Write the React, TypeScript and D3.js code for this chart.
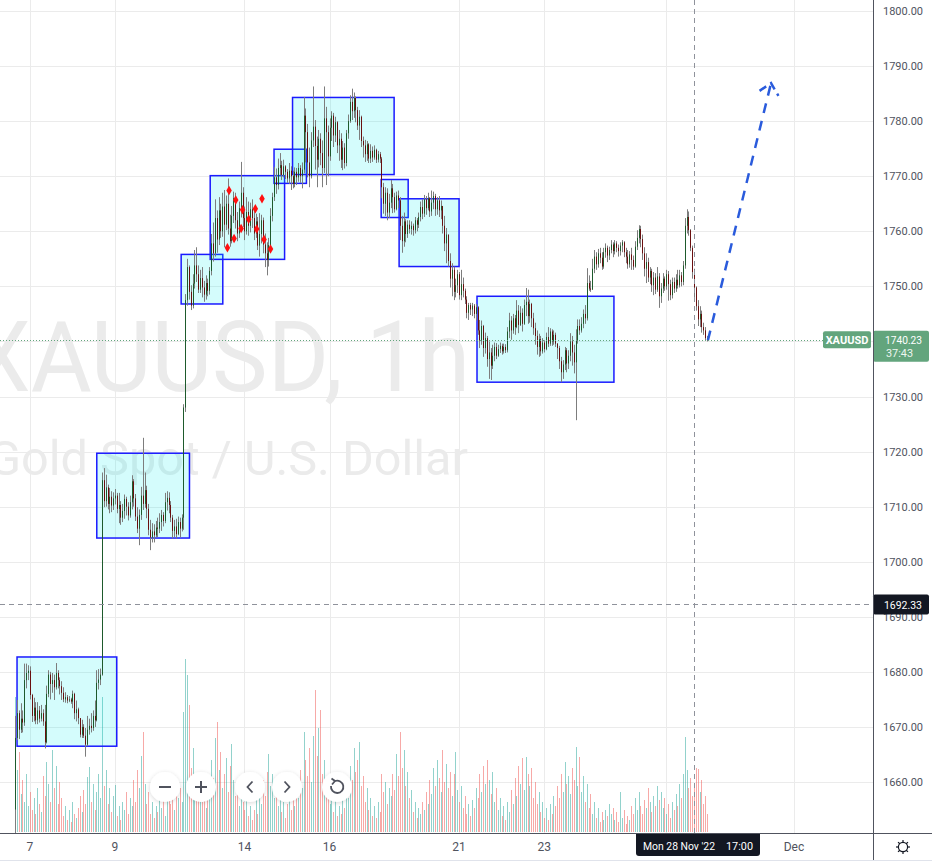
import React from "react";
import * as d3 from "d3";

// ---------- data ----------
const firstOpen = 1655.0;

const closes = [
  1668.0, 1672.5, 1669.5, 1671.5, 1670.8, 1678.5, 1679.8, 1680.2, 1675.8, 1672.0,
  1673.5, 1671.2, 1673.0, 1671.5, 1672.5, 1671.0, 1667.2, 1676.0, 1679.5, 1677.8,
  1678.5, 1677.2, 1679.8, 1678.5, 1677.4, 1676.2, 1675.0, 1675.4, 1674.8, 1675.0,
  1674.6, 1676.0, 1672.5, 1673.2, 1671.6, 1668.6, 1670.0, 1668.4, 1666.8, 1669.5,
  1670.2, 1669.8, 1672.0, 1671.2, 1678.0, 1678.6, 1679.5, 1714.8, 1711.0, 1713.5,
  1710.5, 1711.8, 1710.2, 1711.5, 1712.0, 1709.6, 1710.3, 1708.0, 1709.2, 1711.4,
  1710.0, 1708.4, 1710.8, 1714.6, 1711.5, 1708.2, 1706.0, 1708.5, 1712.0, 1710.5,
  1713.0, 1709.6, 1705.8, 1704.4, 1705.5, 1704.8, 1706.2, 1706.0, 1707.2, 1708.5,
  1707.4, 1710.8, 1711.6, 1710.3, 1708.0, 1705.6, 1706.4, 1705.0, 1707.2, 1706.0,
  1708.0, 1728.0, 1747.5, 1753.5, 1749.0, 1746.5, 1750.5, 1753.8, 1752.2, 1749.4,
  1751.5, 1749.8, 1748.5, 1750.6, 1749.2, 1752.8, 1757.8, 1756.0, 1762.4, 1758.5,
  1763.8, 1760.0, 1764.5, 1761.2, 1765.0, 1760.5, 1758.2, 1762.8, 1766.0, 1762.0,
  1759.6, 1764.2, 1767.0, 1762.4, 1760.0, 1763.5, 1761.0, 1764.0, 1762.4, 1759.6,
  1761.8, 1757.4, 1759.5, 1762.0, 1757.6, 1756.0, 1754.8, 1757.5, 1762.8, 1766.2,
  1769.8, 1768.4, 1771.5, 1772.0, 1770.2, 1771.8, 1770.8, 1769.6, 1771.0, 1770.0,
  1768.6, 1770.8, 1769.8, 1771.5, 1770.0, 1771.2, 1781.0, 1778.0, 1772.5, 1770.0,
  1776.5, 1779.0, 1775.5, 1773.0, 1776.8, 1774.2, 1771.5, 1780.5, 1778.0, 1773.6,
  1778.8, 1781.0, 1777.4, 1779.8, 1775.6, 1776.8, 1773.0, 1775.2, 1772.4, 1777.8,
  1780.0, 1783.5, 1781.8, 1784.2, 1782.0, 1779.2, 1780.8, 1776.4, 1775.6, 1774.0,
  1775.8, 1773.2, 1774.6, 1773.4, 1774.8, 1773.0, 1774.0, 1773.2, 1768.0, 1765.0,
  1767.0, 1763.4, 1765.2, 1767.8, 1766.2, 1764.0, 1766.5, 1765.6, 1761.0, 1758.2,
  1761.8, 1759.5, 1761.2, 1760.4, 1761.0, 1760.2, 1762.0, 1761.2, 1762.6, 1764.4,
  1763.2, 1765.8, 1764.2, 1766.0, 1763.6, 1765.2, 1766.4, 1764.0, 1765.6, 1763.8,
  1764.6, 1761.0, 1757.8, 1759.4, 1754.6, 1751.4, 1753.0, 1749.0, 1750.2, 1752.2,
  1748.4, 1750.4, 1749.2, 1747.6, 1745.2, 1746.6, 1745.8, 1746.5, 1745.0, 1746.2,
  1742.0, 1740.2, 1742.8, 1738.8, 1740.6, 1736.8, 1738.0, 1735.6, 1737.4, 1739.0,
  1737.4, 1738.6, 1739.2, 1738.2, 1739.0, 1738.4, 1741.8, 1743.8, 1742.0, 1744.2,
  1742.6, 1745.6, 1743.0, 1745.2, 1743.2, 1746.6, 1747.2, 1744.6, 1746.8, 1744.2,
  1742.4, 1741.0, 1739.0, 1740.4, 1738.2, 1739.8, 1738.6, 1740.8, 1739.6, 1741.8,
  1740.0, 1741.2, 1739.6, 1738.8, 1736.4, 1734.4, 1735.8, 1738.4, 1736.0, 1737.4,
  1740.0, 1738.0, 1736.2, 1740.2, 1742.8, 1742.0, 1743.2, 1745.0, 1744.2, 1750.6,
  1749.6, 1749.4, 1753.2, 1755.4, 1754.0, 1756.0, 1755.2, 1753.6, 1756.2, 1757.0,
  1755.6, 1756.6, 1757.6, 1756.4, 1757.8, 1757.0, 1756.4, 1757.4, 1758.0, 1756.2,
  1755.4, 1754.0, 1755.8, 1754.8, 1753.6, 1757.2, 1758.8, 1760.4, 1758.6, 1756.0,
  1753.2, 1754.4, 1751.6, 1752.8, 1750.2, 1751.6, 1749.4, 1751.8, 1748.2, 1749.6,
  1751.4, 1750.0, 1752.2, 1750.4, 1748.4, 1750.8, 1749.6, 1751.2, 1750.2, 1752.0,
  1750.8, 1753.8, 1761.0, 1762.6, 1760.2, 1757.0, 1752.6, 1749.8, 1746.4, 1744.0,
  1745.0, 1742.6, 1742.0, 1740.6, 1740.23,
];

const highs = [
  1672, 1674.9, 1673, 1674.3, 1673, 1681.5, 1681.5, 1681.2, 1681, 1676,
  1675.3, 1674.5, 1674.5, 1673.8, 1674, 1673.2, 1674, 1677.5, 1680.3, 1680,
  1679.8, 1679.5, 1681.6, 1680.3, 1679, 1678.3, 1677.2, 1676.3, 1675.8, 1675.6,
  1675.3, 1676.6, 1676.2, 1674.8, 1673.5, 1671.5, 1671.3, 1670.5, 1669.8, 1672,
  1671.5, 1672.5, 1673, 1674.8, 1680.3, 1680.5, 1680.6, 1716.2, 1717.0, 1715.8,
  1714, 1713.4, 1712.8, 1712.6, 1713.2, 1712.5, 1712.5, 1711, 1710.5, 1712.2,
  1711.8, 1710.8, 1712, 1715.7, 1715, 1712.3, 1709.9, 1709.5, 1713.6, 1722.5,
  1716.2, 1713.8, 1710.5, 1707.6, 1707, 1706.8, 1707.4, 1708, 1708.8, 1709.4,
  1709, 1712.5, 1712.8, 1712.6, 1711, 1708.5, 1707.6, 1707.8, 1708.2, 1708,
  1708.6, 1728.6, 1748.6, 1755, 1753.8, 1750.2, 1752.2, 1756.6, 1757.1, 1753.8,
  1753, 1753.5, 1751, 1752, 1751.4, 1753.5, 1759.5, 1761.6, 1765.8, 1763.8,
  1766.2, 1765, 1767, 1767.5, 1766.5, 1769.6, 1763, 1764.6, 1767.2, 1767,
  1763.5, 1765.4, 1772.6, 1768, 1764.5, 1766.2, 1765.4, 1765.2, 1765.8, 1763.8,
  1763.2, 1762.6, 1763.3, 1763, 1762.5, 1759.6, 1758, 1758.8, 1764.2, 1767,
  1771.7, 1771.4, 1773.2, 1774.2, 1772.8, 1773, 1772, 1771.3, 1772.4, 1771.8,
  1771, 1771.6, 1771.5, 1772.4, 1772, 1772.5, 1784.4, 1782.3, 1779.5, 1775.2,
  1778, 1786.3, 1780.2, 1777.2, 1778.4, 1777.8, 1776.5, 1786.3, 1782.6, 1779.2,
  1780.5, 1781.8, 1781.5, 1780.8, 1780, 1778.4, 1777.8, 1776.4, 1776, 1778.4,
  1781.2, 1784.7, 1785.9, 1785.2, 1784.5, 1782.6, 1782, 1781, 1777.2, 1776.6,
  1776.4, 1776, 1775.8, 1775.4, 1775.6, 1775, 1774.6, 1774.4, 1773.5, 1768.8,
  1768, 1767.8, 1766.8, 1769.3, 1768.6, 1767, 1767.2, 1767.4, 1766.2, 1762.8,
  1763.4, 1762.2, 1762, 1762, 1761.8, 1761.4, 1762.6, 1762.4, 1763.4, 1765.4,
  1765.8, 1766.6, 1766.4, 1767, 1766.2, 1767.4, 1767.2, 1766.8, 1766.2, 1766.4,
  1765.6, 1764.4, 1762.8, 1760.6, 1759.4, 1756, 1754.2, 1753.6, 1751.4, 1753,
  1752.6, 1753, 1751.6, 1749.6, 1748.2, 1747, 1747, 1747, 1746.8, 1746.8,
  1746.4, 1743.9, 1743.8, 1743, 1741.6, 1741, 1740, 1738.8, 1739.4, 1739.8,
  1739.7, 1739.4, 1739.8, 1739.6, 1739.6, 1739.5, 1742.6, 1745.2, 1744.6, 1745,
  1744.8, 1747.5, 1746.6, 1746.4, 1746, 1747.6, 1749.7, 1749.4, 1747.6, 1747,
  1745.2, 1743.4, 1742, 1741.4, 1741, 1740.6, 1740.2, 1741.6, 1742.6, 1742.4,
  1742.2, 1742, 1741.6, 1739.7, 1739.2, 1737.2, 1736.6, 1739, 1738.8, 1738.4,
  1741.5, 1741, 1739.4, 1742.2, 1744, 1744, 1744.4, 1745.8, 1746.6, 1753.3,
  1752, 1751, 1755, 1756.6, 1756.2, 1756.8, 1757, 1756.2, 1757, 1757.8,
  1757.4, 1757.2, 1758.4, 1758, 1758.4, 1758.2, 1757.6, 1758, 1758.4, 1758.2,
  1757, 1756.6, 1756.4, 1757, 1755.6, 1758.2, 1760.2, 1761.1, 1761, 1759.4,
  1757.1, 1756, 1755.2, 1753.5, 1753.2, 1752.6, 1752.4, 1753.5, 1752.4, 1750.6,
  1752.4, 1751.8, 1753, 1752.8, 1751.2, 1751.6, 1751.6, 1752.2, 1753, 1753,
  1752.6, 1754.6, 1762.4, 1764, 1763.6, 1760.4, 1757.4, 1753.2, 1750, 1747.5,
  1746.4, 1745.6, 1743.4, 1742.6, 1741,
];

const lows = [
  1650, 1667.6, 1667.8, 1668.9, 1669, 1670.2, 1677, 1678.5, 1675, 1670.9,
  1671, 1670.5, 1670.5, 1670.8, 1671, 1670.2, 1666.1, 1667, 1675.4, 1675,
  1676.2, 1674.9, 1676.8, 1677, 1675.9, 1674.9, 1674.5, 1674.4, 1674.3, 1674.5,
  1674.2, 1673.4, 1671.4, 1671, 1670.5, 1668.1, 1668, 1668, 1664.6, 1666.5,
  1668.6, 1669, 1669.3, 1670, 1671, 1676.8, 1677.6, 1679.3, 1709.9, 1710,
  1709.5, 1708.8, 1709, 1709.4, 1710.4, 1708.8, 1707, 1706.7, 1707.2, 1707.8,
  1708.4, 1707.5, 1708, 1709.5, 1710, 1707.4, 1705.2, 1703, 1707.6, 1709.4,
  1709.8, 1707.9, 1704.8, 1702.1, 1703.5, 1703.5, 1704.4, 1704.5, 1705.2, 1705.6,
  1706.4, 1707, 1709.3, 1708.8, 1707.2, 1704.2, 1704.5, 1704.2, 1704.8, 1704.4,
  1705.5, 1705.8, 1727.2, 1746.5, 1747.6, 1745.7, 1746, 1749.6, 1750.8, 1748.8,
  1748.8, 1748, 1747.2, 1747.6, 1748.2, 1748.5, 1752, 1754.5, 1755.4, 1756.1,
  1757.5, 1758.8, 1759, 1757.1, 1760.2, 1759.4, 1757.2, 1757.8, 1761.5, 1760.5,
  1758.2, 1758.8, 1762.5, 1760.8, 1758.4, 1759.4, 1759.2, 1759.8, 1760.6, 1758.4,
  1758.8, 1756.6, 1755.4, 1757.8, 1756, 1753.5, 1752, 1753.6, 1756.8, 1761.8,
  1765.5, 1766.8, 1767.6, 1770.2, 1769.3, 1769.8, 1769.5, 1768.8, 1768.6, 1767.5,
  1767.8, 1768, 1768.4, 1769, 1768.8, 1767.8, 1770.5, 1772.5, 1769.8, 1768,
  1769.6, 1775.3, 1771.2, 1768, 1771.6, 1772, 1768, 1770.6, 1768.4, 1770,
  1772.8, 1776.4, 1775.3, 1776.2, 1774.2, 1772.8, 1771.5, 1771.1, 1771.4, 1771.8,
  1776.8, 1779.7, 1780.2, 1780.6, 1779.8, 1778.4, 1776.6, 1775.3, 1773.4, 1772.6,
  1772.8, 1772.4, 1772.4, 1772.6, 1773, 1772.4, 1772.5, 1772.4, 1766, 1763.2,
  1762.8, 1762, 1762.4, 1764.2, 1763.3, 1763.4, 1763.8, 1764.2, 1758.4, 1756.1,
  1757.2, 1758, 1758.8, 1759.6, 1759.4, 1759.2, 1759.6, 1760, 1760.6, 1761.8,
  1762.2, 1762.6, 1763, 1763.8, 1762.6, 1762.8, 1764, 1762.8, 1763, 1762.6,
  1762.2, 1759.6, 1756.4, 1754.2, 1753.6, 1749.8, 1748.2, 1747.5, 1748, 1748.8,
  1747.6, 1747.5, 1748, 1746.8, 1744.2, 1743.9, 1744.8, 1744.6, 1744.2, 1743.8,
  1741.2, 1738.8, 1739.4, 1737.2, 1737.8, 1735.4, 1733.2, 1733, 1735, 1736.4,
  1736.8, 1737.2, 1737.9, 1737.6, 1737.8, 1737.9, 1738, 1740.6, 1740.3, 1741.4,
  1741.2, 1742.4, 1741.5, 1742.8, 1741.8, 1743, 1744.6, 1743.2, 1743.4, 1742.6,
  1741.2, 1739.4, 1737.6, 1737.2, 1737.4, 1737.8, 1738, 1738.4, 1739, 1739.2,
  1739.2, 1739.4, 1739, 1736.8, 1735, 1732.6, 1733.2, 1734.8, 1734.4, 1735,
  1736.4, 1735.6, 1734.2, 1725.7, 1739.6, 1741.2, 1741.6, 1742.4, 1743.2, 1743.8,
  1749.2, 1749, 1749.5, 1752.4, 1753, 1753.4, 1754.2, 1753, 1753.2, 1755.2,
  1754.4, 1754.8, 1756, 1755.3, 1755.8, 1756.2, 1755.4, 1755.6, 1756.2, 1755.3,
  1754.2, 1753.2, 1753.4, 1753, 1753, 1753.4, 1756.6, 1757.8, 1757.1, 1754.8,
  1751.8, 1750.6, 1750.8, 1750.4, 1749, 1748.4, 1748.6, 1749, 1746.1, 1747,
  1748.8, 1749.2, 1749.4, 1747.4, 1747.5, 1747.8, 1748.8, 1749, 1749.6, 1749.8,
  1750, 1750.2, 1753.2, 1759.6, 1759.2, 1756.4, 1751.4, 1747.8, 1745.6, 1742.8,
  1742.6, 1741.6, 1741.2, 1740.2, 1740,
];

const volumes = [
  135, 62, 80, 38, 52, 30, 58, 26, 40, 22, 34, 18, 44, 28, 20, 56, 36, 70, 48, 30, 82, 44, 66, 28, 50,
  34, 16, 26, 12, 22, 10, 30, 18, 14, 24, 36, 20, 42, 28, 55, 65, 30, 48, 22, 40, 58, 34, 135, 46, 62,
  28, 44, 20, 36, 47, 16, 26, 12, 30, 22, 40, 18, 34, 26, 52, 30, 62, 44, 76, 100, 48, 28, 40, 18, 30,
  14, 26, 20, 36, 24, 42, 16, 32, 46, 28, 38, 22, 50, 34, 44, 30, 120, 173, 157, 127, 64, 84, 40, 56, 36,
  48, 30, 42, 24, 50, 38, 72, 54, 94, 110, 62, 80, 44, 58, 74, 40, 66, 88, 52, 36, 48, 26, 40, 30, 22,
  32, 16, 26, 12, 22, 34, 18, 40, 28, 52, 36, 60, 78, 46, 58, 34, 48, 26, 38, 20, 30, 14, 28, 36, 22,
  40, 26, 46, 34, 62, 44, 100, 72, 56, 84, 50, 96, 142, 76, 104, 122, 58, 72, 40, 54, 28, 42, 20, 32, 16,
  26, 18, 36, 24, 48, 34, 66, 52, 84, 60, 72, 90, 46, 56, 30, 44, 22, 34, 16, 26, 14, 30, 20, 58, 40,
  50, 28, 44, 36, 58, 42, 78, 56, 100, 64, 82, 46, 60, 34, 42, 20, 30, 14, 24, 18, 30, 22, 40, 28, 52,
  38, 64, 46, 72, 54, 40, 82, 50, 68, 44, 60, 36, 58, 80, 42, 30, 46, 24, 36, 18, 28, 16, 32, 24, 44,
  34, 58, 40, 66, 48, 72, 52, 38, 60, 30, 44, 22, 34, 16, 26, 12, 30, 20, 42, 28, 54, 36, 66, 48, 74,
  42, 75, 58, 46, 64, 34, 50, 28, 40, 20, 30, 14, 24, 12, 28, 18, 36, 26, 46, 34, 58, 40, 70, 48, 56,
  38, 64, 52, 85, 46, 75, 40, 56, 30, 48, 24, 38, 18, 30, 14, 24, 10, 20, 12, 22, 16, 28, 18, 24, 12,
  20, 10, 40, 14, 22, 8, 16, 12, 26, 18, 34, 22, 40, 26, 18, 32, 24, 44, 30, 20, 36, 26, 46, 32, 40,
  24, 34, 18, 28, 14, 30, 22, 38, 26, 48, 34, 58, 95, 62, 44, 54, 36, 48, 64, 63, 40, 52, 28, 36, 18,
];

const priceTicks = [1660, 1670, 1680, 1690, 1700, 1710, 1720, 1730, 1740, 1750, 1760, 1770, 1780, 1790, 1800];
const dateTickLabels = ["7", "9", "14", "16", "21", "23", "", "Dec"];
const dateTickBars = [8, 54, 124, 170, 240, 286, 352, 421];

const boxLeft = [1.1, 44.2, 89.8, 105.5, 140.0, 150.0, 197.9, 207.6, 249.7];
const boxRight = [55.0, 94.3, 112.3, 145.7, 157.5, 204.9, 212.5, 240.0, 323.7];
const boxTop = [1682.7, 1719.7, 1755.8, 1770.1, 1774.9, 1784.3, 1769.4, 1765.9, 1748.2];
const boxBottom = [1666.5, 1704.3, 1746.8, 1754.9, 1768.7, 1770.3, 1762.5, 1753.6, 1732.6];

const dotBars = [115.7, 119.3, 123.0, 126.3, 122.2, 118.4, 114.8, 129.9, 133.5, 130.6, 134.6, 138.1];
const dotPrices = [1767.4, 1765.7, 1763.9, 1762.2, 1760.5, 1758.7, 1757.0, 1764.1, 1765.9, 1760.4, 1758.5, 1756.8];

const arrowBars = [374.5, 408.6];
const arrowPrices = [1740.2, 1786.9];
const arrowHeadBars = [402.4, 408.6, 412.6];
const arrowHeadPrices = [1785.5, 1786.9, 1784.6];

const symbol = "XAUUSD";
const lastPrice = 1740.23;
const countdown = "37:43";
const crossPrice = 1692.33;
const crossBar = 367;
const crossDate = "Mon 28 Nov '22";
const crossTime = "17:00";

// ---------- component ----------
const FONT = "Roboto, 'Liberation Sans', Arial, sans-serif";

export default function App() {
  const PW = 873; // right edge of the pane
  const PH = 833; // bottom edge of the pane
  const x = d3.scaleLinear().domain([0, closes.length - 1]).range([15, 707]);
  const y = d3.scaleLinear().domain([1660, 1800]).range([782, 11]);
  const vy = d3.scaleLinear().domain([0, 175]).range([832, 657]);

  const bars = closes.map((c, i) => {
    const o = i === 0 ? firstOpen : closes[i - 1];
    return { i, o, c, h: Math.max(highs[i], o, c), l: Math.min(lows[i], o, c), v: volumes[i] };
  });

  const px = (v: number) => Math.round(v) + 0.5;
  const green = "#63a57d";
  const line = d3.line<[number, number]>().x((d) => d[0]).y((d) => d[1]);
  const arrowPts: [number, number][] = arrowBars.map((b, k) => [x(b), y(arrowPrices[k])]);
  const headPts: [number, number][] = arrowHeadBars.map((b, k) => [x(b), y(arrowHeadPrices[k])]);
  const diamond = d3.symbol().type(d3.symbolDiamond).size(26)();

  const cx = px(x(crossBar));
  const cy = px(y(crossPrice));
  const ly = y(lastPrice);

  const navX = [165, 201, 250, 287, 337];
  // tick labels fully hidden under the last-price label are not drawn
  const visibleTicks = priceTicks.filter((t) => Math.abs(y(t) - (ly + 6)) > 14);

  return (
    <svg
      width={932}
      height={868}
      style={{ position: "absolute", left: 0, top: 0, background: "#fff" }}
      fontFamily={FONT}
    >
      <defs>
        <clipPath id="pane">
          <rect x={0} y={0} width={PW} height={PH} />
        </clipPath>
        <filter id="sh" x="-50%" y="-50%" width="200%" height="200%">
          <feDropShadow dx={0} dy={1} stdDeviation={2.2} floodColor="#000" floodOpacity={0.16} />
        </filter>
      </defs>
      <rect x={0} y={0} width={932} height={868} fill="#fff" />

      <g clipPath="url(#pane)">
        {/* watermark */}
        <text x={-28} y={391} fontSize={98} fill="#ebebeb" textLength={498} lengthAdjust="spacingAndGlyphs">
          XAUUSD, 1h
        </text>
        <text x={-12} y={475} fontSize={48} fill="#ebebeb" textLength={480} lengthAdjust="spacingAndGlyphs">
          Gold Spot / U.S. Dollar
        </text>

        {/* grid */}
        {priceTicks.map((t) => (
          <line key={"hg" + t} x1={0} x2={PW} y1={px(y(t))} y2={px(y(t))} stroke="#ebebeb" />
        ))}
        {dateTickBars.map((b, k) => (
          <line key={"vg" + k} x1={px(x(b))} x2={px(x(b))} y1={0} y2={PH} stroke="#ebebeb" />
        ))}

        {/* volume */}
        {bars.map((d) => (
          <rect
            key={"v" + d.i}
            x={Math.round(x(d.i))}
            y={vy(d.v)}
            width={1}
            height={vy(0) - vy(d.v)}
            fill={d.c >= d.o ? "rgba(38,166,154,0.5)" : "rgba(239,83,80,0.5)"}
          />
        ))}

        {/* rectangles */}
        {boxLeft.map((b, k) => (
          <rect
            key={"b" + k}
            x={x(b)}
            y={y(boxTop[k])}
            width={x(boxRight[k]) - x(b)}
            height={y(boxBottom[k]) - y(boxTop[k])}
            fill="rgba(0,235,235,0.17)"
            stroke="#1a1aff"
            strokeWidth={1.5}
          />
        ))}

        {/* candles */}
        {bars.map((d) => {
          const xc = Math.round(x(d.i));
          const top = y(Math.max(d.o, d.c));
          const bot = y(Math.min(d.o, d.c));
          return (
            <g key={"c" + d.i}>
              <rect x={xc} y={y(d.h)} width={1} height={Math.max(1, y(d.l) - y(d.h))} fill="#7d7d7d" />
              <rect
                x={xc}
                y={top}
                width={1}
                height={Math.max(1, bot - top)}
                fill={d.c >= d.o ? "#1e5a2c" : "#6a0f0f"}
              />
            </g>
          );
        })}

        {/* red markers */}
        {dotBars.map((b, k) => (
          <path key={"d" + k} d={diamond || ""} transform={`translate(${x(b)},${y(dotPrices[k])})`} fill="#ff1010" />
        ))}

        {/* forecast arrow */}
        <path d={line(arrowPts) || ""} fill="none" stroke="#2a5bdc" strokeWidth={2.5} strokeDasharray="10,8" />
        <path d={line(headPts) || ""} fill="none" stroke="#2a5bdc" strokeWidth={2.5} strokeDasharray="8,5" />

        {/* last price line */}
        <line x1={0} x2={PW} y1={px(ly)} y2={px(ly)} stroke={green} strokeDasharray="1,2" />

        {/* crosshair */}
        <line x1={cx} x2={cx} y1={0} y2={PH} stroke="#8f929b" strokeDasharray="5,4" />
        <line x1={0} x2={PW} y1={cy} y2={cy} stroke="#8f929b" strokeDasharray="5,4" />

        {/* symbol label */}
        <rect x={823} y={ly - 9} width={48} height={17} rx={2} fill={green} />
        <text x={847} y={ly + 4} textAnchor="middle" fontSize={11} fontWeight="bold" fill="#fff">
          {symbol}
        </text>

        {/* nav buttons */}
        {navX.map((nx, k) => (
          <g key={"n" + k} transform={`translate(${nx},787)`}>
            <circle r={15} fill="#fff" filter="url(#sh)" />
            {k === 0 && <line x1={-6} x2={6} y1={0} y2={0} stroke="#50535e" strokeWidth={2} />}
            {k === 1 && (
              <path d="M-6,0H6M0,-6V6" stroke="#50535e" strokeWidth={2} fill="none" />
            )}
            {k === 2 && <polyline points="2.5,-5.5 -2.5,0 2.5,5.5" stroke="#50535e" strokeWidth={1.8} fill="none" />}
            {k === 3 && <polyline points="-2.5,-5.5 2.5,0 -2.5,5.5" stroke="#50535e" strokeWidth={1.8} fill="none" />}
            {k === 4 && (
              <g stroke="#50535e" strokeWidth={1.8} fill="none">
                <path d="M-2,-6 A6.2,6.2 0 1 1 -6,-1" />
                <path d="M-5.5,-8.5 L-2,-6 L-5,-2.5" />
              </g>
            )}
          </g>
        ))}
      </g>

      {/* price axis */}
      <rect x={PW} y={0} width={932 - PW} height={PH} fill="#fff" />
      {visibleTicks.map((t) => (
        <text key={"pt" + t} x={883} y={y(t) + 4} fontSize={11} fill="#50535e">
          {t.toFixed(2)}
        </text>
      ))}
      {/* crosshair price label */}
      <rect x={PW} y={cy - 10} width={56} height={20} rx={2} fill="#131722" />
      <text x={884} y={cy + 4.5} fontSize={11.5} fill="#fff" textLength={38} lengthAdjust="spacingAndGlyphs">
        {crossPrice.toFixed(2)}
      </text>
      {/* last price label */}
      <rect x={PW} y={ly - 9.5} width={56} height={31} rx={2} fill={green} />
      <text x={885} y={ly + 4} fontSize={11.5} fill="#fff" textLength={37} lengthAdjust="spacingAndGlyphs">
        {lastPrice.toFixed(2)}
      </text>
      <text x={886} y={ly + 16.5} fontSize={11} fill="#eef6f0" textLength={27} lengthAdjust="spacingAndGlyphs">
        {countdown}
      </text>

      {/* time axis */}
      <rect x={0} y={PH} width={932} height={868 - PH} fill="#fff" />
      {dateTickBars.map((b, k) => (
        <text key={"dt" + k} x={x(b)} y={851} textAnchor="middle" fontSize={12} fill="#50535e">
          {dateTickLabels[k]}
        </text>
      ))}
      <path d="M636,833.5 H760 V853 Q760,856 757,856 H639 Q636,856 636,853 Z" fill="#131722" />
      <text x={643} y={850} fontSize={11.5} fill="#fff" textLength={72} lengthAdjust="spacingAndGlyphs">
        {crossDate}
      </text>
      <text x={726} y={850} fontSize={11.5} fill="#fff" textLength={27} lengthAdjust="spacingAndGlyphs">
        {crossTime}
      </text>

      {/* borders */}
      <line x1={0} x2={932} y1={PH + 0.5} y2={PH + 0.5} stroke="#50535e" />
      <line x1={PW + 0.5} x2={PW + 0.5} y1={0} y2={860} stroke="#50535e" />
      <line x1={0} x2={932} y1={860.5} y2={860.5} stroke="#e0e3eb" />

      {/* gear */}
      <g transform="translate(903,847)" stroke="#131722" strokeWidth={1.2} fill="none">
        <circle r={4.6} />
        {d3.range(8).map((k) => {
          const a = (k * Math.PI) / 4;
          return (
            <line key={"g" + k} x1={Math.cos(a) * 4.6} y1={Math.sin(a) * 4.6} x2={Math.cos(a) * 7} y2={Math.sin(a) * 7} />
          );
        })}
      </g>
    </svg>
  );
}
